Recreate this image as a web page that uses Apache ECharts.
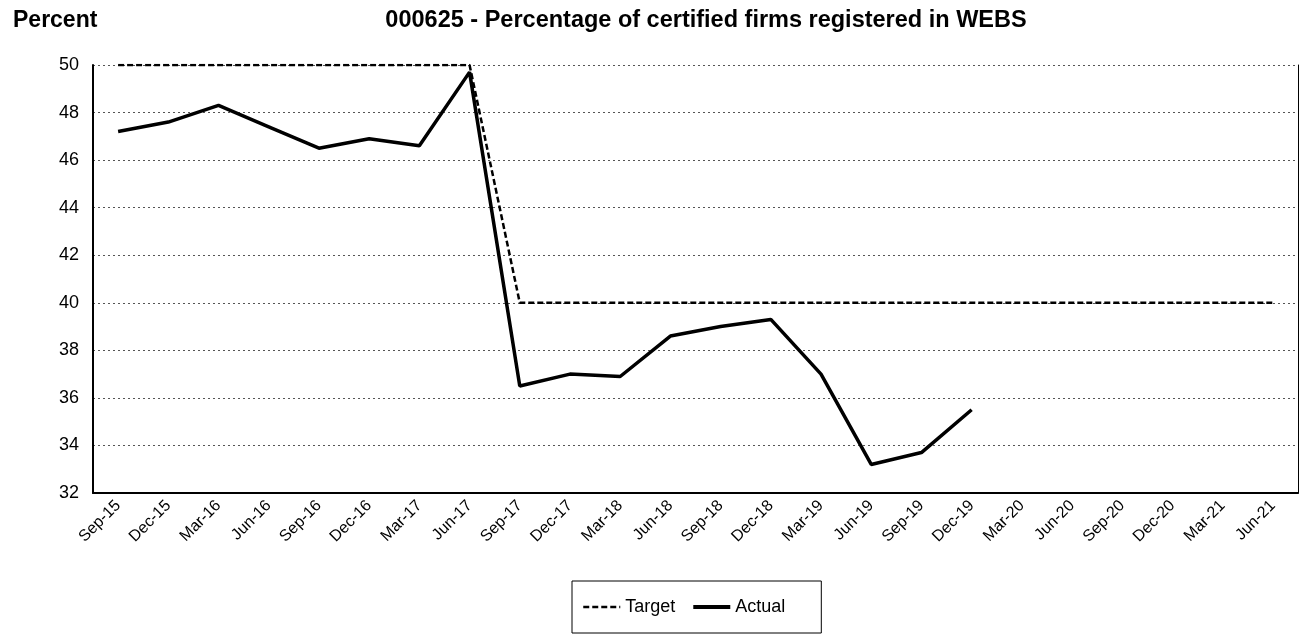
<!DOCTYPE html>
<html>
<head>
<meta charset="utf-8">
<script src="https://cdn.jsdelivr.net/npm/echarts@6/dist/echarts.min.js"></script>
<style>
  html, body { margin: 0; padding: 0; background: #fff; }
  #chart { width: 1306px; height: 634px; }
</style>
</head>
<body>
<div id="chart"></div>
<script>
const categories = ["Sep-15", "Dec-15", "Mar-16", "Jun-16", "Sep-16", "Dec-16", "Mar-17", "Jun-17",
  "Sep-17", "Dec-17", "Mar-18", "Jun-18", "Sep-18", "Dec-18", "Mar-19", "Jun-19", "Sep-19", "Dec-19",
  "Mar-20", "Jun-20", "Sep-20", "Dec-20", "Mar-21", "Jun-21"];
const target = [50, 50, 50, 50, 50, 50, 50, 50,
  40, 40, 40, 40, 40, 40, 40, 40, 40, 40, 40, 40, 40, 40, 40, 40];
const actual = [47.2, 47.6, 48.3, 47.4, 46.5, 46.9, 46.6, 49.7,
  36.5, 37.0, 36.9, 38.6, 39.0, 39.3, 37.0, 33.2, 33.7, 35.5];

const font = "Liberation Sans, Arial, sans-serif";
const chart = echarts.init(document.getElementById("chart"));

chart.setOption({
  animation: false,
  textStyle: { fontFamily: font },
  title: [
    { text: "Percent", left: 8, top: 4, textStyle: { fontSize: 23, fontWeight: "bold", color: "#000", fontFamily: font } },
    { text: "000625 - Percentage of certified firms registered in WEBS", left: 701, top: 4, textAlign: "center",
      textStyle: { fontSize: 23.5, fontWeight: "bold", color: "#000", fontFamily: font } }
  ],
  grid: { left: 93, right: 8, top: 65, bottom: 141 },
  legend: {
    bottom: 1,
    left: 572,
    orient: "horizontal",
    borderColor: "#000",
    borderWidth: 1,
    padding: [17, 36, 17, 10],
    itemWidth: 37,
    itemHeight: 14,
    itemGap: 16,
    itemStyle: { opacity: 0 },
    textStyle: { fontSize: 18, color: "#000", fontFamily: font },
    data: [
      { name: "Target", lineStyle: { width: 2.5 } },
      { name: "Actual", lineStyle: { width: 4 } }
    ]
  },
  xAxis: {
    type: "category",
    data: categories,
    boundaryGap: true,
    axisLine: { lineStyle: { color: "#000", width: 2 } },
    axisTick: { show: false },
    axisLabel: { rotate: 45, fontSize: 16, color: "#000", margin: 10, fontFamily: font },
    splitLine: { show: false }
  },
  yAxis: [
    {
      type: "value",
      min: 32,
      max: 50,
      interval: 2,
      axisLine: { show: true, lineStyle: { color: "#000", width: 2 } },
      axisTick: { show: false },
      axisLabel: { fontSize: 18, color: "#000", margin: 14, fontFamily: font },
      splitLine: { lineStyle: { color: "#555", type: [2, 3], width: 1 } }
    },
    {
      type: "value",
      position: "right",
      min: 32,
      max: 50,
      interval: 2,
      axisLine: { show: true, lineStyle: { color: "#000", width: 1 } },
      axisTick: { show: false },
      axisLabel: { show: false },
      splitLine: { show: false }
    }
  ],
  series: [
    {
      name: "Target",
      type: "line",
      data: target,
      symbol: "none",
      lineStyle: { color: "#000", width: 2.5, type: [6, 3] },
      itemStyle: { color: "#000" }
    },
    {
      name: "Actual",
      type: "line",
      data: actual,
      symbol: "none",
      lineStyle: { color: "#000", width: 3.5 },
      itemStyle: { color: "#000" }
    }
  ]
});
</script>
</body>
</html>
